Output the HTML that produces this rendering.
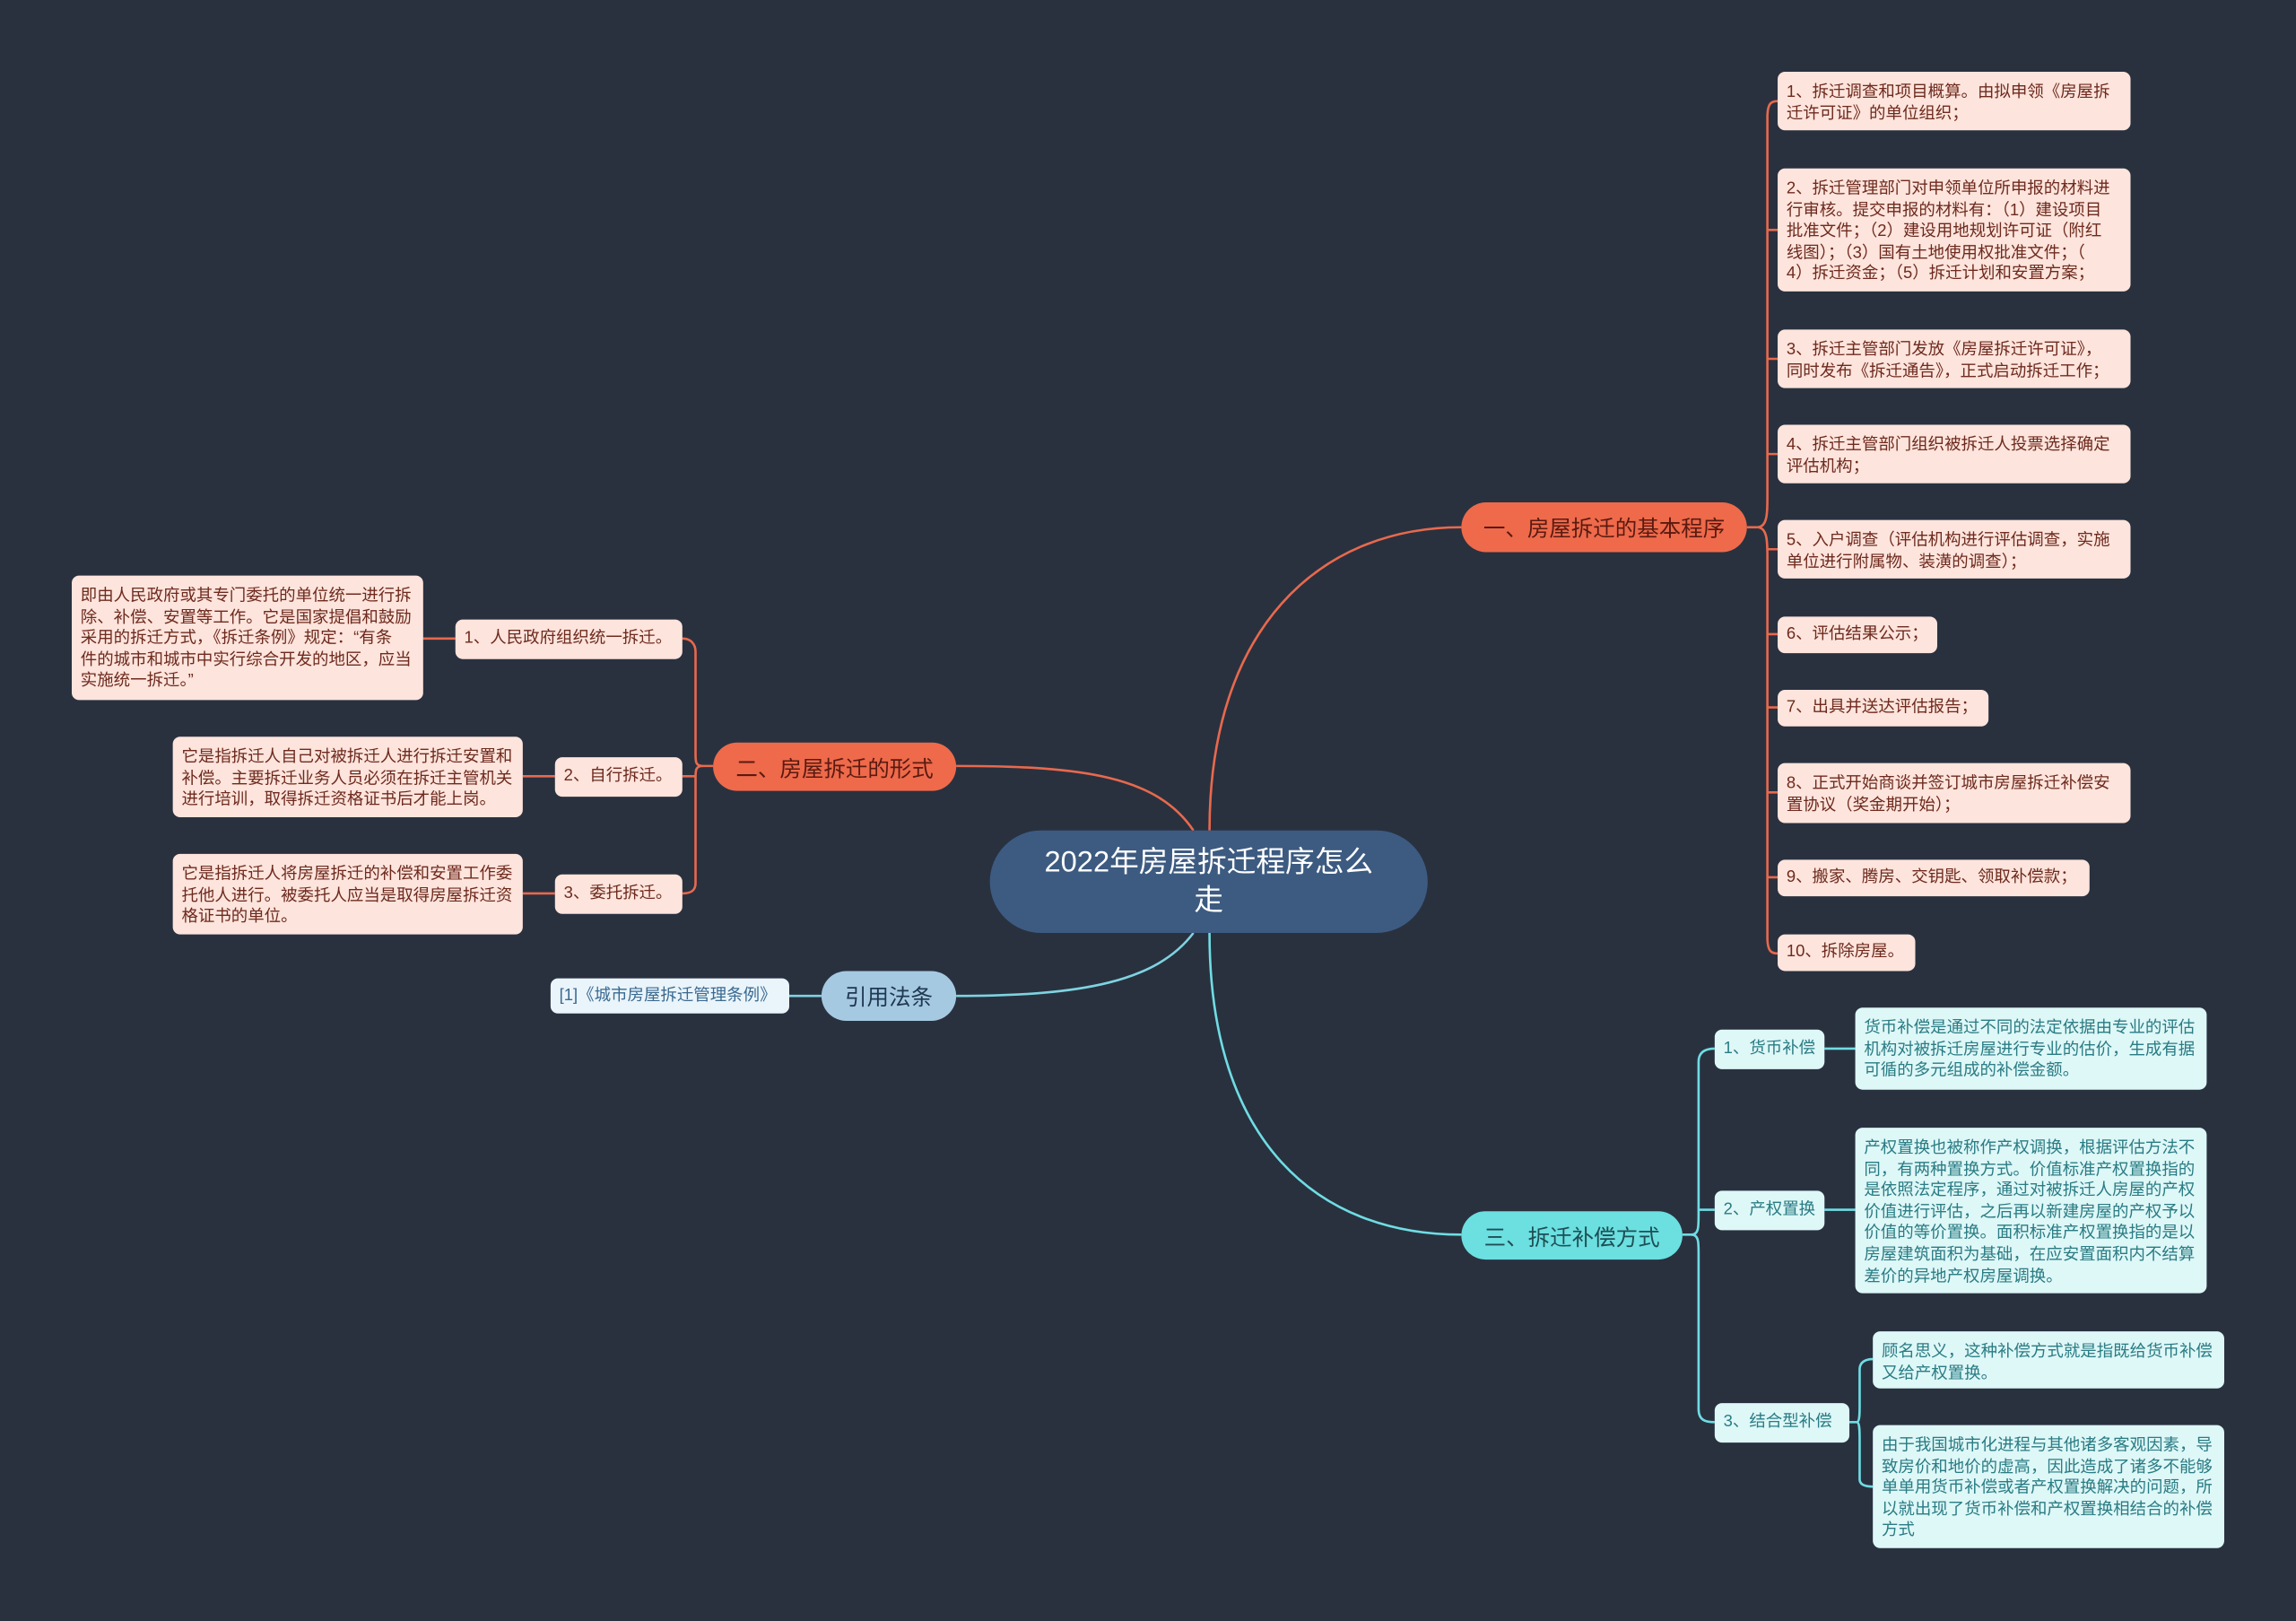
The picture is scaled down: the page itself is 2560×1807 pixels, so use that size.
<!DOCTYPE html>
<html><head><meta charset="utf-8"><style>
html,body{margin:0;padding:0;background:#29313f;overflow:hidden}
#c{position:absolute;left:0;top:0;width:1568px;height:1107px;transform:scale(1.632653);transform-origin:0 0;background:#29313f;font-family:"Liberation Sans","Noto Sans CJK SC",sans-serif}
.n{position:absolute;box-sizing:border-box;border-radius:5px;font-size:11.3px;line-height:14.6px;padding:7px 6px 4px;white-space:nowrap;overflow:hidden}
.o{background:#fde4dc;color:#6e2a1e}
.t{background:#def7f7;color:#2a7c84}
.b{position:absolute;box-sizing:border-box;border-radius:17px;font-size:15px;display:flex;align-items:center;justify-content:center;padding-top:1px}
svg{position:absolute;left:0;top:0}
</style></head><body><div id="c">
<svg width="1568" height="1107" fill="none" stroke-width="1.6">
<g stroke="#e8694d">
<path d="M826 567 C826 430 900 360 998 360"/>
<path d="M815 567 C790 530 740 523 653 523"/>
<path d="M1193 360 H1200"/>
<path d="M1200 360 C1207 360 1207 350 1207 340 V80 C1207 70 1210 69 1214 69"/>
<path d="M1207 157 C1207 157 1210 157 1214 157"/>
<path d="M1207 245 H1214 M1207 310 H1214 M1207 375 H1214"/>
<path d="M1200 360 C1207 360 1207 370 1207 380 V640 C1207 650 1210 651 1214 651"/>
<path d="M1207 433 H1214 M1207 483 H1214 M1207 541 H1214 M1207 599 H1214"/>
<path d="M487 523 H480 C475 523 475 520 475 515 V445 C475 440 472 436 466 436"/>
<path d="M480 523 C475 523 475 526 475 531 V603 C475 608 472 610 466 610"/>
<path d="M475 530 H466"/>
<path d="M311 436 H289 M379 530 H357 M379 610 H357"/>
</g>
<g stroke="#7fd3e0"><path d="M815 637 C790 670 740 680 653 680"/><path d="M561 680 H539"/></g>
<g stroke="#6fdde3">
<path d="M826 637 C826 780 900 843 998 843"/>
<path d="M1149 843 H1155 C1160 843 1160 838 1160 830 V725 C1160 718 1165 716 1171 716"/>
<path d="M1155 843 C1160 843 1160 848 1160 855 V962 C1160 970 1165 971 1171 971"/>
<path d="M1160 826 H1171"/>
<path d="M1246 716 H1267 M1246 826 H1267"/>
<path d="M1263 971 H1268 C1270 971 1270 965 1270 960 V935 C1270 930 1274 928 1279 928"/>
<path d="M1268 971 C1270 971 1270 977 1270 983 V1010 C1270 1014 1274 1015 1279 1015"/>
</g>
</svg>
<div class="b" style="left:676px;top:567px;width:299px;height:70px;border-radius:35px;background:#3d5b81;color:#fff;font-size:20px;line-height:26px;text-align:center;padding:0 36px">2022年房屋拆迁程序怎么走</div>
<div class="b" style="left:998px;top:343px;width:195px;height:34px;background:#ee6a4b;color:#5a1a10">一、房屋拆迁的基本程序</div>
<div class="b" style="left:487px;top:507px;width:166px;height:33px;background:#ee6a4b;color:#5a1a10">二、房屋拆迁的形式</div>
<div class="b" style="left:561px;top:663px;width:92px;height:34px;background:#a6c9e2;color:#1f3850">引用法条</div>
<div class="b" style="left:998px;top:827px;width:151px;height:33px;background:#6cdfe0;color:#1d4f55">三、拆迁补偿方式</div>

<div class="n o" style="left:1214px;top:49px;width:241px;height:40px">1、拆迁调查和项目概算。由拟申领《房屋拆<br>迁许可证》的单位组织；</div>
<div class="n o" style="left:1214px;top:115px;width:241px;height:84px">2、拆迁管理部门对申领单位所申报的材料进<br>行审核。提交申报的材料有：（1）建设项目<br>批准文件；（2）建设用地规划许可证（附红<br>线图）；（3）国有土地使用权批准文件；（<br>4）拆迁资金；（5）拆迁计划和安置方案；</div>
<div class="n o" style="left:1214px;top:225px;width:241px;height:40px">3、拆迁主管部门发放《房屋拆迁许可证》，<br>同时发布《拆迁通告》，正式启动拆迁工作；</div>
<div class="n o" style="left:1214px;top:290px;width:241px;height:40px">4、拆迁主管部门组织被拆迁人投票选择确定<br>评估机构；</div>
<div class="n o" style="left:1214px;top:355px;width:241px;height:40px">5、入户调查（评估机构进行评估调查，实施<br>单位进行附属物、装潢的调查）；</div>
<div class="n o" style="left:1214px;top:421px;width:109px;height:25px;padding-top:5px">6、评估结果公示；</div>
<div class="n o" style="left:1214px;top:471px;width:144px;height:25px;padding-top:5px">7、出具并送达评估报告；</div>
<div class="n o" style="left:1214px;top:521px;width:241px;height:41px">8、正式开始商谈并签订城市房屋拆迁补偿安<br>置协议（奖金期开始）；</div>
<div class="n o" style="left:1214px;top:587px;width:213px;height:25px;padding-top:5px">9、搬家、腾房、交钥匙、领取补偿款；</div>
<div class="n o" style="left:1214px;top:638px;width:94px;height:25px;padding-top:5px">10、拆除房屋。</div>

<div class="n o" style="left:311px;top:423px;width:155px;height:27px;padding-top:6px">1、人民政府组织统一拆迁。</div>
<div class="n o" style="left:49px;top:393px;width:240px;height:85px">即由人民政府或其专门委托的单位统一进行拆<br>除、补偿、安置等工作。它是国家提倡和鼓励<br>采用的拆迁方式，《拆迁条例》规定：“有条<br>件的城市和城市中实行综合开发的地区，应当<br>实施统一拆迁。”</div>
<div class="n o" style="left:379px;top:517px;width:87px;height:27px;padding-top:6px">2、自行拆迁。</div>
<div class="n o" style="left:118px;top:503px;width:239px;height:55px">它是指拆迁人自己对被拆迁人进行拆迁安置和<br>补偿。主要拆迁业务人员必须在拆迁主管机关<br>进行培训，取得拆迁资格证书后才能上岗。</div>
<div class="n o" style="left:379px;top:597px;width:87px;height:27px;padding-top:6px">3、委托拆迁。</div>
<div class="n o" style="left:118px;top:583px;width:239px;height:55px">它是指拆迁人将房屋拆迁的补偿和安置工作委<br>托他人进行。被委托人应当是取得房屋拆迁资<br>格证书的单位。</div>

<div class="n" style="left:376px;top:668px;width:163px;height:24px;padding-top:5px;background:#eaf4fb;color:#3a6a90">[1]《城市房屋拆迁管理条例》</div>

<div class="n t" style="left:1171px;top:703px;width:75px;height:27px;padding-top:6px">1、货币补偿</div>
<div class="n t" style="left:1267px;top:688px;width:240px;height:56px">货币补偿是通过不同的法定依据由专业的评估<br>机构对被拆迁房屋进行专业的估价，生成有据<br>可循的多元组成的补偿金额。</div>
<div class="n t" style="left:1171px;top:813px;width:75px;height:27px;padding-top:6px">2、产权置换</div>
<div class="n t" style="left:1267px;top:770px;width:240px;height:113px">产权置换也被称作产权调换，根据评估方法不<br>同，有两种置换方式。价值标准产权置换指的<br>是依照法定程序，通过对被拆迁人房屋的产权<br>价值进行评估，之后再以新建房屋的产权予以<br>价值的等价置换。面积标准产权置换指的是以<br>房屋建筑面积为基础，在应安置面积内不结算<br>差价的异地产权房屋调换。</div>
<div class="n t" style="left:1171px;top:958px;width:92px;height:27px;padding-top:6px">3、结合型补偿</div>
<div class="n t" style="left:1279px;top:909px;width:240px;height:39px">顾名思义，这种补偿方式就是指既给货币补偿<br>又给产权置换。</div>
<div class="n t" style="left:1279px;top:973px;width:240px;height:84px">由于我国城市化进程与其他诸多客观因素，导<br>致房价和地价的虚高，因此造成了诸多不能够<br>单单用货币补偿或者产权置换解决的问题，所<br>以就出现了货币补偿和产权置换相结合的补偿<br>方式</div>
</div></body></html>
